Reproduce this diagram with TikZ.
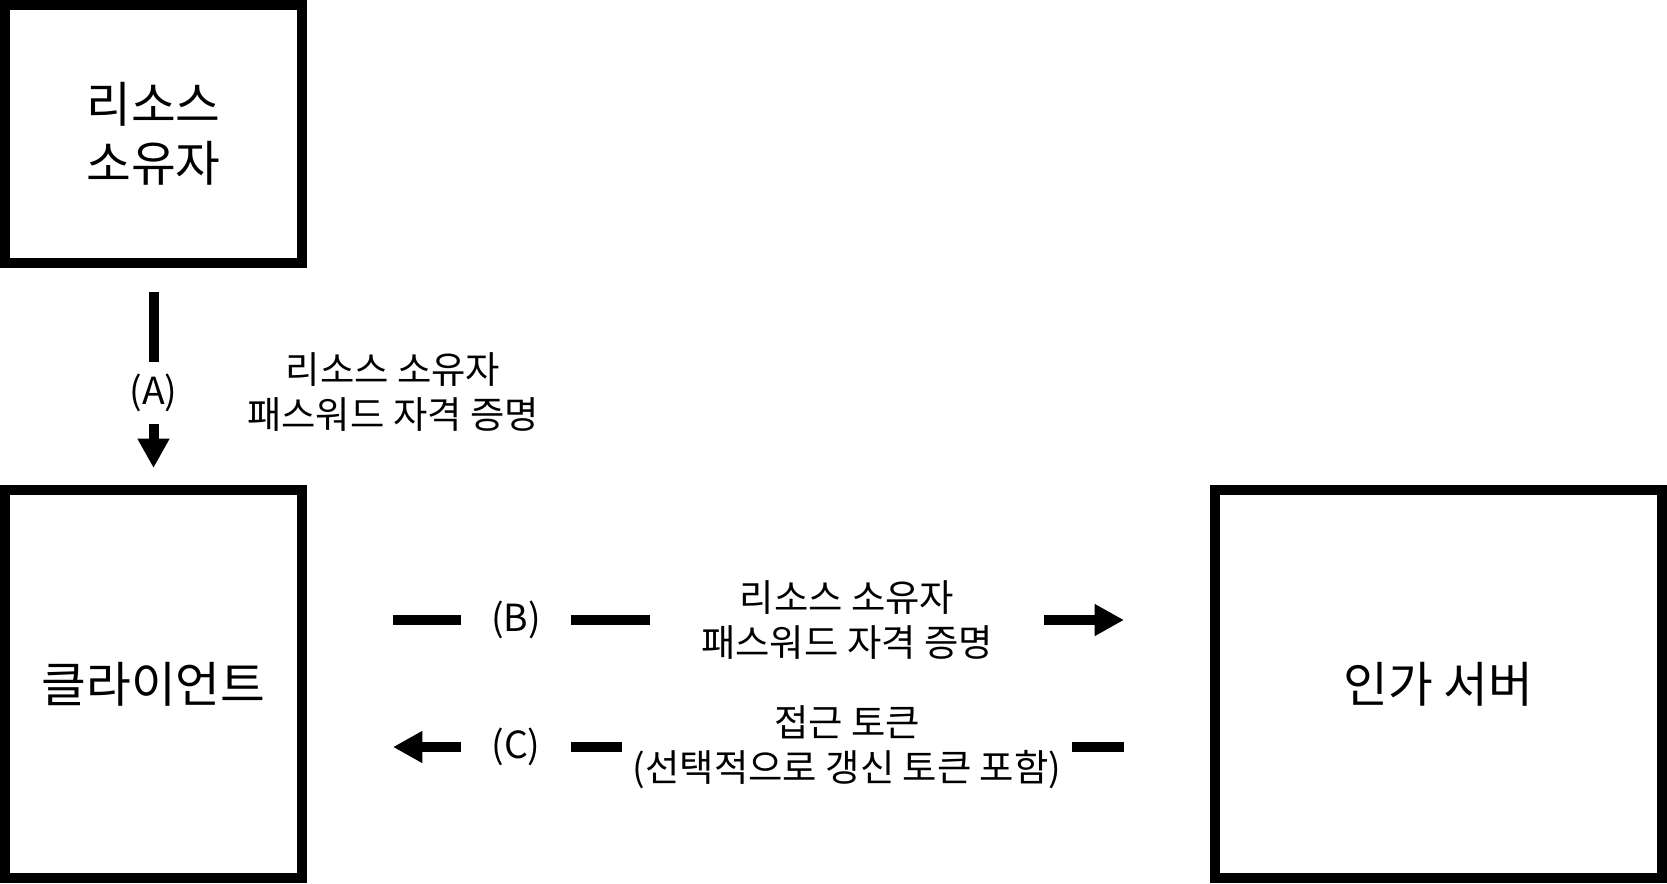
\documentclass[tikz,border=0pt]{standalone}
\usepackage{fontspec}
\setmainfont{Noto Sans CJK KR}
\usetikzlibrary{positioning,arrows.meta}

\begin{document}
\begin{tikzpicture}[x=0.75pt,y=-0.75pt,>={Triangle[length=22pt,width=22.5pt]},
                    box/.style={draw, line width=7.5pt, minimum width=222.75pt, align=center,
                                font=\fontsize{36.5}{44}\selectfont},
                    lbl/.style={fill=white, inner sep=0pt, align=center,
                                font=\fontsize{28}{33.5}\selectfont},
                    flow/.style={->, line width=7.5pt}]
\useasboundingbox (0,0) rectangle (1667,883);
\node[box, minimum height=193.5pt] (owner) at (153.5,134) {리소스\\소유자};
\node[box, minimum height=291pt] (client) at (153.5,684) {클라이언트};
\node[box, minimum height=291pt, minimum width=335.25pt] (authsrv) at (1438.5,684) {인가 서버};
% (A) owner -> client
\draw[flow, shorten <=18pt, shorten >=12.75pt] (owner.south) -- (client.north)
  node[lbl, pos=0.576, minimum height=46.5pt] (alab) {(A)};
\node[lbl] (atxt) at (393,392) {리소스 소유자\\패스워드 자격 증명};
% (B) client -> server
\draw[flow, shorten <=64.5pt, shorten >=64.5pt] ([yshift=48pt]client.east) -- ([yshift=48pt]authsrv.west)
  node[lbl, pos=0.2315, minimum width=82.5pt] (blab) {(B)}
  node[lbl, pos=0.598, minimum width=295.5pt] (btxt) {리소스 소유자\\패스워드 자격 증명};
% (C) server -> client
\draw[flow, shorten <=64.5pt, shorten >=64.5pt] ([yshift=-47.25pt]authsrv.west) -- ([yshift=-47.25pt]client.east)
  node[lbl, pos=0.7685, minimum width=82.5pt] (clab) {(C)}
  node[lbl, pos=0.402, minimum width=337.5pt] (ctxt) {접근 토큰\\(선택적으로 갱신 토큰 포함)};
\end{tikzpicture}
\end{document}
